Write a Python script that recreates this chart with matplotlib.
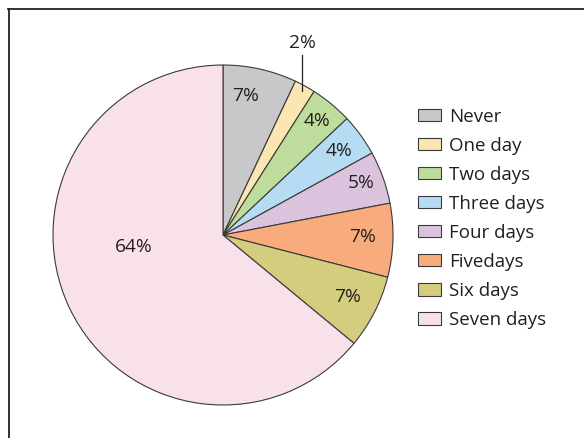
import numpy as np
import matplotlib
matplotlib.use("Agg")
import matplotlib.pyplot as plt
from matplotlib.lines import Line2D

categories = ["Never", "One day", "Two days", "Three days", "Four days",
              "Fivedays", "Six days", "Seven days"]
values = [7, 2, 4, 4, 5, 7, 7, 64]
labels = ["7%", "2%", "4%", "4%", "5%", "7%", "7%", "64%"]
colors = ["#c8c8ca", "#fbe5b0", "#bedd9c", "#b5dcf2", "#dbc3de",
          "#f8ab7c", "#d4cd7e", "#f9e1eb"]

plt.rcParams['font.family'] = ['Open Sans', 'DejaVu Sans']

fig = plt.figure(figsize=(5.84, 4.38), dpi=100)
W, H = 584, 438
cx, cy, R = 223, 235, 170
ax = fig.add_axes([(cx - R) / W, (H - cy - R) / H, 2 * R / W, 2 * R / H])

wedges, _ = ax.pie(values, colors=colors, startangle=90, counterclock=False,
                   radius=1.0,
                   wedgeprops=dict(edgecolor="#3a3a3a", linewidth=0.8))
ax.set_xlim(-1, 1)
ax.set_ylim(-1, 1)
ax.set_aspect('equal')
ax.axis('off')

# label placement: (radius fraction, angle offset in degrees)
place = {0: (0.83, 3.6), 2: (0.87, 0), 3: (0.84, 0), 4: (0.87, 0.8),
         5: (0.82, 1.0), 6: (0.82, 0.6), 7: (0.53, -17.6)}
fs = 13.8
for i, w in enumerate(wedges):
    mid = np.deg2rad((w.theta1 + w.theta2) / 2)
    if i == 1:
        x0 = 0.965 * np.cos(mid)
        y0 = 0.965 * np.sin(mid)
        ax.plot([x0, x0], [y0, 1.06], color="#222222", lw=0.9, clip_on=False)
        ax.text(x0, 1.13, labels[i], ha='center', va='center', fontsize=fs,
                color="#231f20")
        continue
    r, off = place[i]
    a = mid + np.deg2rad(off)
    ax.text(r * np.cos(a), r * np.sin(a), labels[i], ha='center', va='center',
            fontsize=fs, color="#231f20")

leg = fig.legend(wedges, categories, loc='upper left',
                 bbox_to_anchor=(410 / W, 1 - 100 / H), frameon=False,
                 fontsize=13.5, handlelength=1.25, handleheight=0.65,
                 handletextpad=0.42, labelspacing=0.59, borderaxespad=0)
for t in leg.get_texts():
    t.set_color("#231f20")

# frame (left and top edges)
fig.add_artist(Line2D([8.5 / W, 8.5 / W], [0, 1 - 9 / H], transform=fig.transFigure,
                      color="#222222", lw=1.3))
fig.add_artist(Line2D([8 / W, 1], [1 - 9 / H, 1 - 9 / H], transform=fig.transFigure,
                      color="#222222", lw=1.3))

fig.savefig("out.png", dpi=100)
